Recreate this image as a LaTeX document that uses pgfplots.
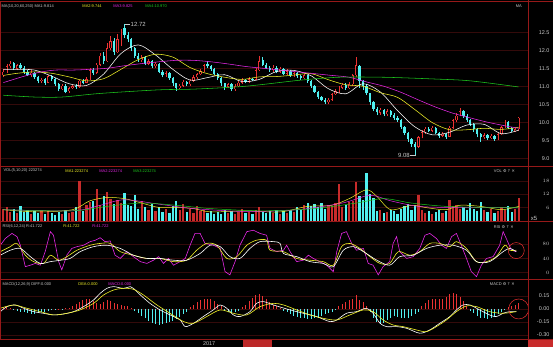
\documentclass[border=0pt]{standalone}
\usepackage{fontspec}
\setmainfont{Liberation Sans}
\newfontfamily\dejavu{DejaVu Sans}
\usepackage{pgfplots}
\pgfplotsset{compat=1.18}
\usepackage{pgfplotstable}

\definecolor{upred}{RGB}{235,50,50}
\definecolor{dncyan}{RGB}{80,240,240}
\definecolor{sepred}{RGB}{150,25,25}
\definecolor{gridred}{RGB}{52,10,10}
\definecolor{txtgray}{RGB}{200,200,200}
\definecolor{magen}{RGB}{230,40,230}
\definecolor{ylw}{RGB}{240,240,40}
\definecolor{grn}{RGB}{30,200,30}

\pgfplotstableread{
i o h l c v
0 11.30 11.48 11.25 11.40 5.5
1 11.42 11.62 11.38 11.55 6.0
2 11.55 11.70 11.50 11.62 4.0
3 11.65 11.68 11.45 11.50 5.5
4 11.48 11.63 11.44 11.58 3.5
5 11.60 11.64 11.48 11.52 6.5
6 11.52 11.56 11.35 11.40 4.0
7 11.40 11.44 11.28 11.32 5.0
8 11.30 11.45 11.26 11.38 3.0
9 11.38 11.40 11.20 11.25 4.5
10 11.25 11.28 11.08 11.15 3.5
11 11.14 11.24 11.10 11.18 5.0
12 11.20 11.22 11.04 11.10 3.0
13 11.10 11.32 11.08 11.28 4.5
14 11.28 11.30 11.15 11.20 3.5
15 11.20 11.22 11.00 11.05 2.5
16 11.05 11.08 10.86 10.92 4.0
17 10.92 11.06 10.90 11.02 3.0
18 11.02 11.05 10.80 10.85 5.0
19 10.86 10.98 10.82 10.95 3.5
20 10.96 11.04 10.92 11.00 4.0
21 11.02 11.05 10.93 10.98 6.0
22 10.98 11.18 10.96 11.15 18.0
23 11.15 11.20 11.05 11.10 4.5
24 11.10 11.25 11.08 11.20 7.0
25 11.20 11.50 11.18 11.45 8.5
26 11.45 11.52 11.32 11.38 9.0
27 11.38 11.65 11.35 11.60 14.5
28 11.60 11.92 11.55 11.85 7.0
29 11.85 11.95 11.62 11.70 11.0
30 11.70 12.20 11.68 12.05 13.0
31 12.05 12.40 12.00 12.25 10.0
32 12.25 12.35 11.88 11.95 7.5
33 11.95 12.45 11.92 12.30 9.5
34 12.28 12.60 12.12 12.55 8.0
35 12.62 12.72 12.35 12.42 12.5
36 12.42 12.50 12.22 12.30 7.0
37 12.30 12.35 11.98 12.05 6.5
38 12.05 12.10 11.78 11.85 11.8
39 11.85 11.92 11.68 11.75 5.5
40 11.72 11.86 11.68 11.80 9.0
41 11.80 11.84 11.58 11.62 6.0
42 11.62 11.76 11.58 11.70 5.0
43 11.70 11.74 11.50 11.55 7.5
44 11.55 11.68 11.52 11.62 4.5
45 11.62 11.64 11.36 11.40 6.0
46 11.40 11.45 11.25 11.30 4.0
47 11.30 11.42 11.26 11.36 5.5
48 11.36 11.40 11.18 11.22 3.5
49 11.22 11.25 11.02 11.08 6.5
50 11.08 11.10 10.88 10.95 8.9
51 10.95 11.06 10.92 11.02 5.0
52 11.02 11.16 10.98 11.12 7.5
53 11.12 11.15 11.00 11.05 4.0
54 11.05 11.20 11.02 11.15 5.5
55 11.15 11.30 11.12 11.25 3.5
56 11.25 11.38 11.20 11.33 6.5
57 11.33 11.48 11.30 11.42 4.5
58 11.42 11.62 11.40 11.58 5.0
59 11.62 11.70 11.50 11.55 3.5
60 11.55 11.60 11.42 11.48 4.5
61 11.48 11.50 11.30 11.35 3.0
62 11.35 11.38 11.18 11.22 4.0
63 11.22 11.25 11.02 11.08 3.0
64 11.08 11.10 10.90 10.98 5.0
65 10.98 11.10 10.94 11.05 3.5
66 11.05 11.08 10.86 10.92 4.5
67 10.92 11.05 10.88 11.00 3.0
68 11.00 11.14 10.97 11.10 4.0
69 11.10 11.22 11.06 11.16 5.5
70 11.16 11.20 11.08 11.12 3.5
71 11.12 11.25 11.10 11.20 4.0
72 11.20 11.24 11.14 11.18 3.0
73 11.18 11.50 11.16 11.45 5.0
74 11.45 11.85 11.42 11.70 6.0
75 11.72 11.80 11.55 11.60 4.0
76 11.60 11.66 11.48 11.52 3.5
77 11.52 11.56 11.40 11.44 4.5
78 11.44 11.58 11.40 11.52 3.5
79 11.52 11.55 11.36 11.40 5.0
80 11.40 11.53 11.37 11.48 3.0
81 11.48 11.50 11.30 11.35 4.5
82 11.35 11.47 11.32 11.42 3.5
83 11.42 11.45 11.26 11.30 5.0
84 11.30 11.40 11.27 11.36 4.0
85 11.36 11.40 11.24 11.28 6.0
86 11.28 11.32 11.18 11.22 5.0
87 11.22 11.35 11.20 11.30 7.0
88 11.30 11.32 11.10 11.15 8.0
89 11.15 11.18 10.95 11.00 6.5
90 11.00 11.03 10.80 10.85 7.5
91 10.85 10.88 10.65 10.70 6.0
92 10.70 10.74 10.58 10.62 8.0
93 10.62 10.66 10.50 10.55 5.5
94 10.55 10.66 10.52 10.62 7.0
95 10.62 10.82 10.60 10.78 6.5
96 10.78 10.92 10.75 10.86 8.0
97 10.86 11.00 10.82 10.96 16.4
98 10.96 11.10 10.92 11.04 6.0
99 11.04 11.08 10.90 10.95 7.0
100 10.95 11.12 10.92 11.05 8.5
101 11.05 11.35 11.00 11.30 9.0
102 11.30 11.82 11.25 11.58 17.6
103 11.55 11.60 10.95 11.15 11.0
104 11.15 11.18 10.90 11.00 9.5
105 11.00 11.05 10.75 10.80 21.7
106 10.80 10.82 10.48 10.55 12.0
107 10.55 10.58 10.30 10.38 10.5
108 10.38 10.42 10.20 10.28 4.5
109 10.26 10.40 10.20 10.34 5.0
110 10.34 10.38 10.16 10.22 3.5
111 10.22 10.36 10.18 10.30 4.0
112 10.30 10.34 10.15 10.20 5.0
113 10.20 10.26 10.06 10.12 4.5
114 10.12 10.16 10.00 10.05 3.0
115 10.05 10.08 9.82 9.88 5.5
116 9.88 9.90 9.64 9.70 6.5
117 9.70 9.74 9.46 9.52 7.5
118 9.52 9.56 9.32 9.40 5.0
119 9.40 9.45 9.08 9.30 7.0
120 9.32 9.62 9.28 9.58 11.6
121 9.58 9.78 9.55 9.72 5.0
122 9.72 9.86 9.68 9.82 3.5
123 9.82 9.86 9.72 9.76 4.5
124 9.76 9.90 9.74 9.84 3.0
125 9.84 9.86 9.66 9.70 4.0
126 9.70 9.74 9.56 9.62 5.0
127 9.62 9.72 9.58 9.68 3.5
128 9.68 9.70 9.54 9.58 4.5
129 9.60 9.90 9.58 9.85 9.3
130 9.85 10.10 9.82 10.05 6.5
131 10.05 10.25 10.00 10.18 7.0
132 10.20 10.39 10.16 10.30 5.5
133 10.30 10.34 10.12 10.18 6.0
134 10.18 10.22 10.00 10.05 5.0
135 10.05 10.10 9.90 9.95 8.0
136 9.95 9.98 9.74 9.80 5.5
137 9.80 9.84 9.58 9.66 4.5
138 9.66 9.70 9.45 9.58 8.6
139 9.58 9.70 9.54 9.64 5.0
140 9.64 9.68 9.50 9.55 4.0
141 9.55 9.66 9.52 9.62 5.5
142 9.62 9.64 9.48 9.52 3.5
143 9.52 9.70 9.50 9.66 4.5
144 9.66 9.90 9.64 9.86 6.0
145 9.86 10.05 9.84 9.98 5.0
146 10.00 10.04 9.80 9.85 6.5
147 9.85 9.88 9.72 9.76 4.0
148 9.76 9.84 9.72 9.80 5.5
149 9.80 10.15 9.76 10.12 10.5
}\kdata

\pgfplotstableread{
i m
0 0.02
1 0.02
2 0.015
3 -0.01
4 -0.02
5 -0.03
6 -0.04
7 -0.05
8 -0.06
9 -0.06
10 -0.05
11 -0.04
12 -0.03
13 -0.02
14 -0.01
15 -0.01
16 0.005
17 -0.01
18 0.01
19 0.01
20 0.03
21 0.06
22 0.08
23 0.10
24 0.12
25 0.11
26 0.09
27 0.07
28 0.06
29 0.08
30 0.10
31 0.09
32 0.07
33 0.06
34 0.05
35 0.04
36 0.03
37 0.01
38 -0.02
39 -0.05
40 -0.08
41 -0.11
42 -0.14
43 -0.16
44 -0.17
45 -0.18
46 -0.17
47 -0.16
48 -0.15
49 -0.14
50 -0.12
51 -0.09
52 -0.06
53 -0.03
54 0.02
55 0.05
56 0.08
57 0.10
58 0.12
59 0.12
60 0.11
61 0.09
62 0.06
63 0.03
64 -0.02
65 -0.04
66 -0.05
67 -0.04
68 -0.02
69 0.02
70 0.05
71 0.09
72 0.13
73 0.16
74 0.17
75 0.15
76 0.12
77 0.08
78 0.05
79 0.03
80 0.01
81 -0.02
82 -0.04
83 -0.06
84 -0.08
85 -0.09
86 -0.10
87 -0.11
88 -0.12
89 -0.12
90 -0.11
91 -0.10
92 -0.08
93 -0.06
94 -0.05
95 -0.03
96 -0.01
97 0.03
98 0.06
99 0.08
100 0.10
101 0.12
102 0.16
103 0.10
104 0.08
105 0.04
106 -0.04
107 -0.10
108 -0.15
109 -0.17
110 -0.16
111 -0.13
112 -0.10
113 -0.08
114 -0.09
115 -0.10
116 -0.11
117 -0.10
118 -0.08
119 -0.06
120 -0.03
121 0.03
122 0.07
123 0.10
124 0.12
125 0.12
126 0.11
127 0.12
128 0.14
129 0.17
130 0.18
131 0.17
132 0.14
133 0.09
134 0.04
135 -0.02
136 -0.05
137 -0.08
138 -0.10
139 -0.11
140 -0.12
141 -0.11
142 -0.09
143 -0.06
144 -0.03
145 -0.01
146 0.02
147 0.04
148 0.05
149 0.07
}\mdata

\pgfplotsset{
  panel/.style={
    scale only axis, width=529bp, xmin=-0.866, xmax=151.89,
    axis line style={draw=none}, xtick=\empty, major tick length=0pt,
    yticklabel pos=right,
    y tick label style={anchor=east, xshift=21bp, inner sep=0pt, text=txtgray, font=\fontsize{5.5}{6}\selectfont},
    ymajorgrids, grid style={gridred, line width=0.5bp},
    anchor=north west, clip=true
  },
  up/.style={restrict expr to domain={\thisrow{c}-\thisrow{o}}{0:10}},
  dn/.style={restrict expr to domain={\thisrow{c}-\thisrow{o}}{-10:-0.0001}},
  wick/.style={draw=none, mark=none, forget plot, error bars/.cd, y dir=plus, y explicit, error mark=none, error bar style={line width=0.6bp, color=#1}, /pgfplots/.cd},
  body/.style={draw=none, mark=none, forget plot, error bars/.cd, y dir=plus, y explicit, error mark=none, error bar style={line width=2.3bp, color=#1}, /pgfplots/.cd},
  inner/.style={draw=none, mark=none, forget plot, error bars/.cd, y dir=plus, y explicit, error mark=none, error bar style={line width=1.0bp, color=black, shorten <=0.5bp, shorten >=0.5bp}, /pgfplots/.cd}
}

\begin{document}
\begin{tikzpicture}
\fill[black] (0bp,0bp) rectangle (553bp,347bp);

% ---------------- price panel ----------------
\begin{axis}[panel, at={(0bp,346bp)}, height=165bp, ymin=8.778, ymax=13.361,
  ytick={9,9.5,10,10.5,11,11.5,12,12.5}, yticklabels={9.0,9.5,10.0,10.5,11.0,11.5,12.0,12.5}]
\addplot[up, wick=upred] table[x=i, y=l, y error plus expr={\thisrow{h}-\thisrow{l}}]{\kdata};
\addplot[up, body=upred] table[x=i, y=o, y error plus expr={\thisrow{c}-\thisrow{o}}]{\kdata};
\addplot[up, inner] table[x=i, y=o, y error plus expr={\thisrow{c}-\thisrow{o}}]{\kdata};
\addplot[dn, wick=dncyan] table[x=i, y=l, y error plus expr={\thisrow{h}-\thisrow{l}}]{\kdata};
\addplot[dn, body=dncyan] table[x=i, y=c, y error plus expr={\thisrow{o}-\thisrow{c}}]{\kdata};
% MA lines
\addplot[white, line width=0.55bp, smooth] coordinates {(0,11.47) (4,11.47) (9,11.45) (14,11.28) (19,11.07) (24,11.02) (29,11.34) (34,11.91) (39,12.15) (44,11.87) (49,11.47) (54,11.17) (59,11.24) (64,11.32) (69,11.13) (74,11.19) (79,11.41) (84,11.44) (89,11.29) (94,10.93) (99,10.79) (104,11.07) (109,10.84) (114,10.32) (119,9.87) (124,9.65) (129,9.72) (134,9.92) (139,9.94) (144,9.68) (149,9.78)};
\addplot[ylw, line width=0.55bp, smooth] coordinates {(0,11.30) (4,11.36) (9,11.40) (14,11.36) (19,11.26) (24,11.15) (29,11.21) (34,11.47) (39,11.74) (44,11.89) (49,11.81) (54,11.52) (59,11.35) (64,11.25) (69,11.19) (74,11.26) (79,11.27) (84,11.31) (89,11.35) (94,11.18) (99,11.04) (104,11.00) (109,10.82) (114,10.69) (119,10.35) (124,9.99) (129,9.79) (134,9.79) (139,9.83) (144,9.80) (149,9.86)};
\addplot[magen, line width=0.55bp, smooth] coordinates {(0,11.10) (5,11.25) (10,11.38) (15,11.45) (20,11.45) (25,11.47) (30,11.50) (35,11.57) (40,11.63) (45,11.68) (50,11.72) (55,11.72) (60,11.68) (65,11.62) (70,11.55) (75,11.50) (80,11.45) (85,11.40) (90,11.35) (95,11.30) (100,11.25) (105,11.12) (110,11.00) (115,10.83) (120,10.62) (125,10.42) (130,10.25) (135,10.12) (140,10.00) (145,9.90) (149,9.83)};
\addplot[grn, line width=0.55bp, smooth] coordinates {(0,10.75) (9,10.70) (17,10.70) (28,10.80) (45,10.90) (55,10.92) (70,11.00) (86,11.17) (97,11.25) (110,11.25) (125,11.20) (135,11.15) (149,10.98)};
\draw[txtgray, line width=0.4bp] (axis cs:35.3,12.72) -- (axis cs:36.6,12.72)
  node[anchor=west, inner sep=0.6bp, font=\fontsize{6}{7}\selectfont] {12.72};
\draw[txtgray, line width=0.4bp] (axis cs:117.7,9.08) -- (axis cs:119.2,9.08);
\node[anchor=east, inner sep=0.6bp, text=txtgray, font=\fontsize{6}{7}\selectfont] at (axis cs:117.7,9.08) {9.08};
\end{axis}

% ---------------- volume panel ----------------
\begin{axis}[panel, at={(0bp,181bp)}, height=55bp, ymin=-0.135, ymax=24.67,
  ytick={6,12,18}]
\addplot[up, ycomb, upred!85!black, line width=2.3bp, forget plot] table[x=i, y=v]{\kdata};
\addplot[dn, ycomb, dncyan, line width=2.3bp, forget plot] table[x=i, y=v]{\kdata};
\addplot[ylw, line width=0.5bp, smooth] coordinates {(0,5) (10,4) (20,5) (25,9) (30,10.5) (35,10) (40,8) (45,6) (50,6) (55,5.5) (60,4) (70,4.5) (80,4) (88,6.5) (95,7) (100,10) (105,14) (108,11) (112,5) (118,7) (122,6) (128,5) (132,7) (138,6.5) (144,5) (149,6.5)};
\addplot[magen, line width=0.5bp, smooth] coordinates {(0,5) (20,4.5) (28,7) (35,9.5) (45,7.5) (55,5.5) (70,4.2) (85,5) (98,8) (106,11.5) (112,9) (120,6.5) (130,6) (140,6) (149,5.8)};
\addplot[grn, line width=0.5bp, smooth] coordinates {(0,5) (20,4.5) (30,6.5) (40,8) (50,7) (60,5.5) (75,4.5) (90,5.5) (102,8) (110,10) (118,8) (128,6.5) (140,6) (149,6)};
\end{axis}

% ---------------- RSI panel ----------------
\begin{axis}[panel, at={(0bp,126bp)}, height=58bp, ymin=-17.6, ymax=144.6,
  ytick={0,40,80}]
\addplot[magen, line width=0.6bp] coordinates {(-0.87,77) (0.58,96) (2.5,110) (3.95,101) (4.91,77) (6.35,17) (7.8,21) (9.24,26) (10.7,21) (12.1,59) (13.6,115) (14.5,105) (16,31) (16.9,8) (18.4,50) (19.8,68) (21.3,73) (23.2,77) (25.1,87) (26.6,91) (28,98) (29.4,87) (30.9,89) (32.3,49) (33.8,40) (35.7,59) (37.6,45) (39.6,31) (41.5,26) (43.4,35) (44.9,45) (46.3,26) (47.7,40) (49.2,21) (51.1,31) (52.6,40) (54,77) (55.4,110) (56.9,110) (58.3,82) (60.7,77) (62.7,68) (64.1,3) (65.5,-6) (67,31) (68.4,77) (70.4,115) (72.3,119) (74.2,110) (76.1,105) (77.1,68) (79,59) (81,63) (81.9,77) (82.9,59) (84.8,31) (86.7,35) (88.2,49) (89.6,40) (91.5,31) (93.5,21) (95.4,3) (96.4,59) (97.8,110) (99.2,115) (100.7,82) (102.1,63) (104.1,68) (105.5,26) (106.9,21) (108.4,-6) (109.8,17) (111.7,31) (112.7,82) (113.7,101) (114.6,59) (116.6,40) (118.5,45) (120.4,68) (121.9,105) (123.3,110) (125.2,96) (126.7,77) (128.1,68) (129.6,101) (131,110) (132.4,77) (133.9,40) (135.3,3) (136.8,-11) (138.2,21) (139.7,40) (141.6,45) (143.5,77) (144.5,115) (145.4,96) (146.9,63) (148.3,59)};
\addplot[ylw, line width=0.6bp, smooth] coordinates {(-0.87,59) (2.02,73) (3.95,82) (6.35,49) (8.76,31) (11.6,26) (13.6,49) (16,35) (18.4,45) (21.3,63) (25.1,77) (28,82) (30.9,82) (33.8,59) (37.6,49) (41.5,40) (45.3,40) (49.2,31) (53,35) (55.9,63) (58.8,82) (61.7,77) (64.6,40) (67.5,45) (70.4,77) (73.2,91) (76.1,91) (77.1,63) (81,59) (84.8,40) (88.7,35) (92.5,31) (95.4,21) (97.8,73) (100.2,82) (103.1,68) (106,45) (108.9,26) (111.7,26) (114.2,59) (117.5,49) (120.4,59) (123.3,82) (126.2,82) (129.1,73) (131,87) (133.9,68) (136.8,31) (139.7,31) (142.5,45) (145,77) (146.4,63) (148.3,63)};
\addplot[white, line width=0.6bp, smooth] coordinates {(-0.87,49) (2.02,63) (4.91,68) (7.8,45) (10.7,26) (13.6,31) (16.5,35) (19.3,40) (22.2,59) (26.1,73) (29.9,77) (33.8,68) (37.6,49) (41.5,40) (45.3,40) (49.2,35) (53,35) (56.9,54) (59.8,77) (62.7,73) (65.5,45) (68.4,40) (71.3,68) (74.2,87) (78.1,87) (80,82) (81,54) (84.8,45) (88.7,31) (92.5,26) (95.4,17) (98.3,63) (101.2,73) (104.1,59) (108,35) (111.7,21) (114.6,45) (118.5,49) (122.3,68) (126.2,77) (130,77) (133.9,63) (136.8,31) (140.6,31) (144.5,59) (146.4,68) (148.3,59)};
\draw[upred, line width=0.5bp] (axis cs:148.3,62) circle[radius=8bp];
\end{axis}

% ---------------- MACD panel ----------------
\begin{axis}[panel, at={(0bp,68bp)}, height=60bp, ymin=-0.346, ymax=0.346,
  ytick={-0.3,-0.15,0,0.15}, yticklabels={-0.30,-0.15,0.00,0.15}]
\addplot[ycomb, upred, line width=0.8bp, restrict y to domain=0:1, forget plot] table[x=i, y=m]{\mdata};
\addplot[ycomb, dncyan, line width=0.8bp, restrict y to domain=-1:0, forget plot] table[x=i, y=m]{\mdata};
\addplot[white, line width=0.6bp, smooth] coordinates {(-0.87,-0.031) (1.06,0.027) (3.46,0.046) (5.87,0.008) (8.76,-0.031) (11.6,-0.05) (14.5,-0.069) (17.4,-0.058) (20.3,-0.031) (23.2,0.027) (26.1,0.104) (28,0.181) (29.9,0.238) (31.9,0.258) (34.7,0.238) (36.7,0.258) (37.6,0.238) (39.6,0.162) (42.4,0.065) (45.3,-0.011) (48.2,-0.069) (51.1,-0.127) (52.6,-0.204) (55,-0.165) (57.8,-0.088) (60.7,-0.011) (62.7,0.046) (64.6,0.008) (66.5,-0.069) (68.4,-0.088) (71.3,-0.031) (73.2,0.065) (75.2,0.085) (78.1,0.046) (82.9,-0.011) (86.7,-0.05) (90.6,-0.088) (94.4,-0.146) (96.4,-0.127) (99.2,-0.05) (102.1,-0.031) (105,0.008) (106.9,-0.05) (108.9,-0.165) (110.8,-0.204) (113.7,-0.204) (116.6,-0.223) (120.4,-0.28) (123.3,-0.242) (126.2,-0.165) (129.1,-0.088) (131,-0.011) (132.9,0.046) (134.9,0.046) (137.7,-0.011) (140.6,-0.069) (142.5,-0.088) (144.5,-0.05) (146.4,-0.031) (148.3,-0.031)};
\addplot[ylw, line width=0.6bp, smooth] coordinates {(-0.87,0.008) (3,0.046) (6.8,0.008) (10.7,-0.031) (14.5,-0.069) (18.4,-0.05) (22.2,-0.011) (26.1,0.065) (29,0.162) (31.9,0.219) (34.7,0.238) (37.6,0.227) (40.5,0.162) (44.4,0.046) (48.2,-0.05) (52.1,-0.146) (55,-0.165) (58.8,-0.088) (62.7,-0.011) (66.5,-0.05) (70.4,-0.069) (74.2,0.027) (78.1,0.065) (81,0.046) (84.8,-0.011) (88.7,-0.069) (92.5,-0.108) (96.4,-0.127) (100.2,-0.069) (104.1,-0.011) (106.9,-0.031) (109.8,-0.127) (112.7,-0.185) (115.6,-0.204) (119.4,-0.242) (122.3,-0.262) (125.2,-0.204) (128.1,-0.127) (131,-0.031) (133.9,0.035) (136.8,0.027) (140.6,-0.031) (144.5,-0.05) (148.3,-0.031)};
\draw[upred, line width=0.5bp] (axis cs:149,0.0) circle[radius=10bp];
\end{axis}

% ---------------- frame and separators ----------------
\begin{scope}[x=1bp, y=1bp]
\draw[sepred, line width=0.7bp] (0,346.3) -- (553,346.3);
\draw[sepred, line width=0.7bp] (0,181) -- (553,181);
\draw[sepred, line width=0.7bp] (0,126) -- (553,126);
\draw[sepred, line width=0.7bp] (0,68) -- (553,68);
\draw[sepred, line width=0.7bp] (0,8) -- (553,8);
\draw[sepred, line width=0.7bp] (529,0) -- (529,347);
\draw[sepred, line width=0.7bp] (0.4,8) -- (0.4,346.3);
\fill[upred!80!black] (243,0) rectangle (272,7);
\fill[upred!85!black] (528,0) rectangle (553,7);

\begin{scope}[every node/.style={anchor=west, inner sep=0pt, font=\fontsize{4}{5}\selectfont}]
\node[text=txtgray] at (1,341) {MA(10,20,60,250) MA1:9.814};
\node[text=ylw] at (82,341) {MA2:9.744};
\node[text=magen] at (113,341) {MA3:9.825};
\node[text=grn] at (145,341) {MA4:10.970};
\node[text=txtgray] at (3,176.5) {VOL(5,10,20) 223274};
\node[text=ylw] at (65,176.5) {MA1:223274};
\node[text=magen] at (99,176.5) {MA2:223274};
\node[text=grn] at (133,176.5) {MA3:223274};
\node[text=txtgray] at (2,120.5) {RSI(6,12,24) R:41.722};
\node[text=ylw] at (63,120.5) {R:41.722};
\node[text=magen] at (92,120.5) {R:41.722};
\node[text=txtgray] at (2,62.5) {MACD(12,26,9) DIFF:0.000};
\node[text=ylw] at (78,62.5) {DEA:0.000};
\node[text=magen] at (108,62.5) {MACD:0.000};
\node[text=txtgray] at (516,341) {MA};
\node[text=txtgray] at (494,176.5) {VOL \dejavu ⚙ ? ✕};
\node[text=txtgray] at (494,120.5) {RSI \dejavu ⚙ ? ✕};
\node[text=txtgray] at (490,62.5) {MACD \dejavu ⚙ ? ✕};
\end{scope}
\node[anchor=west, inner sep=0pt, text=txtgray, font=\fontsize{6}{7}\selectfont] at (531,128.5) {x5};
\node[anchor=center, inner sep=0pt, text=txtgray, font=\fontsize{5.5}{6}\selectfont] at (209,3.8) {2017};
\end{scope}
\end{tikzpicture}
\end{document}
